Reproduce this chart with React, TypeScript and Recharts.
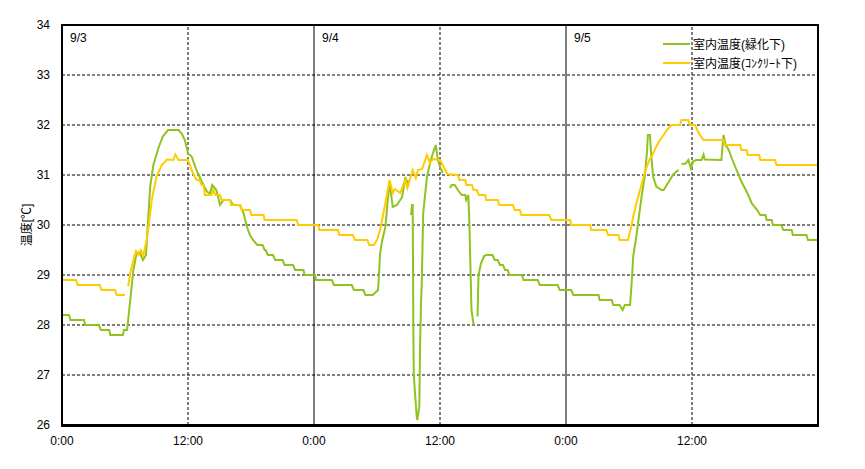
import {
  Legend,
  Line,
  LineChart,
  ReferenceLine,
  XAxis,
  YAxis,
} from "recharts";

// hours since 9/3 0:00, temperature in °C (null = gap in the record)
const greenSeries: [number, number | null][] = [
  [0, 28.2], [0.67, 28.2], [0.8, 28.1], [2.1, 28.1], [2.2, 28.0], [3.5, 28.0], [3.7, 27.9],
  [4.5, 27.9], [4.6, 27.8], [5.8, 27.8], [5.9, 27.9], [6.2, 27.9], [6.5, 28.5], [6.8, 29.1],
  [7.1, 29.43], [7.4, 29.46], [7.7, 29.3], [8.0, 29.4], [8.2, 30.1], [8.4, 30.77], [8.7, 31.2],
  [9.2, 31.55], [9.6, 31.77], [10.1, 31.9], [11.1, 31.9], [11.4, 31.83], [11.7, 31.7],
  [12.0, 31.43], [12.35, 31.37], [12.8, 31.1], [13.3, 30.87], [13.8, 30.67], [14.1, 30.63],
  [14.3, 30.8], [14.7, 30.7], [15.05, 30.4], [15.4, 30.5], [16.0, 30.5], [16.3, 30.4],
  [16.95, 30.4], [17.3, 30.23], [17.6, 29.97], [17.9, 29.8], [18.2, 29.7], [18.6, 29.6],
  [19.1, 29.6], [19.3, 29.5], [19.4, 29.5], [19.6, 29.4], [20.1, 29.4], [20.3, 29.3],
  [21.0, 29.3], [21.2, 29.2], [22.0, 29.2], [22.2, 29.1], [23.0, 29.1], [23.1, 29.0],
  [24.1, 29.0], [24.2, 28.9], [25.7, 28.9], [25.9, 28.8], [27.6, 28.8], [27.8, 28.7],
  [28.7, 28.7], [28.9, 28.6], [29.6, 28.6], [30.1, 28.7], [30.3, 29.44], [30.5, 29.7],
  [30.8, 29.96], [31.05, 30.56], [31.2, 30.84], [31.5, 30.36], [31.9, 30.4], [32.4, 30.56],
  [32.7, 30.96], [32.9, 30.8], [33.0, 30.9], [33.1, null], [33.24, 30.2], [33.33, 30.4],
  [33.4, 30.4], [33.46, 28.0], [33.5, 27.0], [33.78, 26.17], [33.84, 26.1], [34.03, 26.37],
  [34.1, 27.57], [34.2, 28.5], [34.26, 28.8], [34.4, 30.24], [34.76, 30.96], [35.05, 31.24],
  [35.33, 31.44], [35.6, 31.6], [35.7, 31.44], [35.8, 31.3], [36.0, 31.16], [36.26, 31.04],
  [36.5, null], [36.95, 30.74], [37.1, 30.8], [37.4, 30.8], [37.7, 30.7], [38.07, 30.6],
  [38.4, 30.6], [38.5, 30.5], [38.7, 30.6], [38.8, 30.0], [39.0, 28.3], [39.2, 28.0],
  [39.4, null], [39.57, 28.17], [39.67, 29.0], [39.9, 29.23], [40.2, 29.38], [40.4, 29.4],
  [41.0, 29.4], [41.2, 29.3], [41.5, 29.3], [41.7, 29.2], [42.0, 29.2], [42.2, 29.1],
  [42.45, 29.1], [42.6, 29.0], [43.8, 29.0], [43.95, 28.9], [45.3, 28.9], [45.5, 28.8],
  [47.2, 28.8], [47.4, 28.7], [48.5, 28.7], [48.7, 28.6], [51.1, 28.6], [51.2, 28.5],
  [52.35, 28.5], [52.5, 28.4], [53.1, 28.4], [53.4, 28.3], [53.6, 28.4], [54.1, 28.4],
  [54.25, 28.83], [54.4, 29.37], [54.7, 29.77], [54.9, 30.1], [55.2, 30.57], [55.5, 30.97],
  [55.7, 31.43], [55.8, 31.8], [56.0, 31.8], [56.1, 31.43], [56.3, 30.97], [56.6, 30.77],
  [57.1, 30.7], [57.3, 30.7], [57.6, 30.8], [57.9, 30.9], [58.2, 31.01], [58.7, 31.1],
  [58.85, null], [59.0, 31.22], [59.4, 31.23], [59.65, 31.3], [59.9, 31.13], [60.1, 31.27],
  [60.4, 31.3], [60.9, 31.3], [61.1, 31.41], [61.2, 31.31], [62.8, 31.3], [63.0, 31.8],
  [63.2, 31.6], [63.5, 31.5], [63.8, 31.33], [64.3, 31.07], [64.7, 30.87], [65.2, 30.67],
  [65.7, 30.43], [66.2, 30.3], [66.5, 30.2], [67.0, 30.2], [67.1, 30.1], [67.6, 30.1],
  [67.7, 30.0], [68.5, 30.0], [68.7, 29.9], [69.5, 29.9], [69.6, 29.8], [70.9, 29.8],
  [71.05, 29.7], [72, 29.7],
];

const yellowSeries: [number, number | null][] = [
  [0, 28.9], [1.33, 28.9], [1.5, 28.8], [3.6, 28.8], [3.75, 28.7], [5.05, 28.7], [5.2, 28.6],
  [6.0, 28.6], [6.15, null], [6.3, 28.77], [6.5, 29.04], [6.8, 29.3], [7.05, 29.48],
  [7.3, 29.4], [7.5, 29.5], [7.75, 29.4], [8.07, 29.7], [8.2, 29.9], [8.55, 30.5],
  [9.0, 30.97], [9.5, 31.2], [10.0, 31.31], [10.6, 31.3], [10.8, 31.41], [11.1, 31.3],
  [12.0, 31.3], [12.35, 31.1], [12.8, 30.9], [13.1, 30.9], [13.3, 30.8], [13.5, 30.8],
  [13.6, 30.6], [14.25, 30.6], [14.4, 30.7], [14.6, 30.6], [15.05, 30.6], [15.2, 30.5],
  [16.0, 30.5], [16.1, 30.4], [16.95, 30.4], [17.1, 30.3], [17.9, 30.3], [18.05, 30.2],
  [19.2, 30.2], [19.3, 30.1], [22.35, 30.1], [22.5, 30.0], [24.4, 30.0], [24.5, 29.9],
  [26.3, 29.9], [26.4, 29.8], [27.7, 29.8], [27.9, 29.7], [29.1, 29.7], [29.25, 29.6],
  [29.7, 29.6], [30.0, 29.7], [30.3, 29.9], [30.8, 30.44], [31.2, 30.9], [31.5, 30.64],
  [31.7, 30.72], [32.2, 30.64], [32.7, 30.9], [32.9, 30.74], [33.4, 31.1], [33.7, 30.94],
  [33.9, 31.1], [34.3, 31.12], [34.76, 31.4], [35.05, 31.24], [35.3, 31.32], [36.0, 31.3],
  [36.7, 31.02], [37.7, 31.0], [37.85, 30.9], [38.4, 30.9], [38.5, 30.8], [39.05, 30.8],
  [39.2, 30.7], [39.5, 30.7], [39.7, 30.6], [40.3, 30.6], [40.4, 30.5], [41.5, 30.5],
  [41.65, 30.4], [42.95, 30.4], [43.1, 30.3], [43.6, 30.3], [43.75, 30.2], [46.4, 30.2],
  [46.6, 30.1], [48.4, 30.1], [48.5, 30.0], [50.3, 30.0], [50.4, 29.9], [51.85, 29.9],
  [52.0, 29.8], [53.0, 29.8], [53.1, 29.7], [53.9, 29.7], [54.25, 30.0], [54.4, 30.17],
  [54.7, 30.43], [55.05, 30.7], [55.4, 30.97], [55.7, 31.17], [56.0, 31.33], [56.3, 31.43],
  [56.6, 31.57], [56.95, 31.7], [57.3, 31.8], [57.6, 31.9], [58.05, 32.0], [58.85, 32.0],
  [59.0, 32.1], [59.65, 32.1], [59.8, 32.0], [60.3, 32.0], [60.5, 31.9], [60.75, 31.8],
  [61.1, 31.7], [63.0, 31.7], [63.1, 31.6], [64.6, 31.6], [64.7, 31.5], [65.2, 31.5],
  [65.3, 31.4], [66.4, 31.4], [66.5, 31.3], [67.9, 31.3], [68.05, 31.2], [72, 31.2],
];

const dayStarts = [0, 24, 48];
const dayLabels = ["9/3", "9/4", "9/5"];
const noonHours = [12, 36, 60];
const xTicks = [0, 12, 24, 36, 48, 60];
const yTicks = [26, 27, 28, 29, 30, 31, 32, 33, 34];
const gridTemps = [27, 28, 29, 30, 31, 32, 33];

const GREEN = "#8fc31f";
const YELLOW = "#ffcc00";
const FONT = "'Liberation Sans', 'Noto Sans CJK JP', sans-serif";

const toRows = (series: [number, number | null][]) =>
  series.map(([h, t]) => ({ h, t }));

function LegendBox({ payload }: any) {
  return (
    <div style={{ fontFamily: FONT, fontSize: 12, color: "#000" }}>
      {(payload ?? []).map((entry: any) => (
        <div
          key={entry.value}
          style={{ display: "flex", alignItems: "center", height: 19 }}
        >
          <div
            style={{ width: 27, height: 2, background: entry.color, marginRight: 3 }}
          />
          <span>{entry.value}</span>
        </div>
      ))}
    </div>
  );
}

export default function App() {
  return (
    <div
      style={{
        position: "absolute",
        left: 0,
        top: 0,
        width: 865,
        height: 469,
        background: "#fff",
        fontFamily: FONT,
      }}
    >
      <LineChart
        width={865}
        height={469}
        margin={{ top: 25, right: 47, bottom: 14, left: 22 }}
      >
        <XAxis
          dataKey="h"
          type="number"
          domain={[0, 72]}
          ticks={xTicks}
          tickFormatter={(v) => (Number(v) % 24 === 0 ? "0:00" : "12:00")}
          tickLine={false}
          tickSize={0}
          tickMargin={11}
          axisLine={false}
          height={30}
          tick={{ fill: "#000", fontSize: 12 }}
        />
        <YAxis
          type="number"
          domain={[26, 34]}
          ticks={yTicks}
          tickLine={false}
          tickSize={0}
          tickMargin={12}
          axisLine={false}
          width={40}
          tick={{ fill: "#000", fontSize: 12 }}
          label={{
            value: "温度[℃]",
            angle: -90,
            position: "center",
            dx: -15,
            fill: "#000",
            fontSize: 12,
          }}
        />
        {gridTemps.map((t) => (
          <ReferenceLine key={`g${t}`} y={t} stroke="#000" strokeDasharray="3 2" />
        ))}
        {noonHours.map((h) => (
          <ReferenceLine key={`n${h}`} x={h} stroke="#000" strokeDasharray="3 2" />
        ))}
        {dayStarts.map((h, i) => (
          <ReferenceLine
            key={`d${h}`}
            x={h}
            stroke={h === 0 ? "none" : "#000"}
            label={{
              value: dayLabels[i],
              position: "insideTopLeft",
              offset: 8,
              fill: "#000",
              fontSize: 12,
            }}
          />
        ))}
        <Line
          data={toRows(greenSeries)}
          dataKey="t"
          name="室内温度(緑化下)"
          stroke={GREEN}
          strokeWidth={2}
          dot={false}
          type="linear"
          isAnimationActive={false}
        />
        <Line
          data={toRows(yellowSeries)}
          dataKey="t"
          name="室内温度(ｺﾝｸﾘｰﾄ下)"
          stroke={YELLOW}
          strokeWidth={2}
          dot={false}
          type="linear"
          isAnimationActive={false}
        />
        <Legend
          layout="vertical"
          align="center"
          verticalAlign="middle"
          wrapperStyle={{ left: 663, top: 34 }}
          content={<LegendBox />}
        />
      </LineChart>
      {/* plot frame */}
      <div
        style={{
          position: "absolute",
          left: 61,
          top: 24,
          width: 758,
          height: 403,
          boxSizing: "border-box",
          border: "2px solid #000",
          borderBottomWidth: 3,
          pointerEvents: "none",
        }}
      />
    </div>
  );
}
